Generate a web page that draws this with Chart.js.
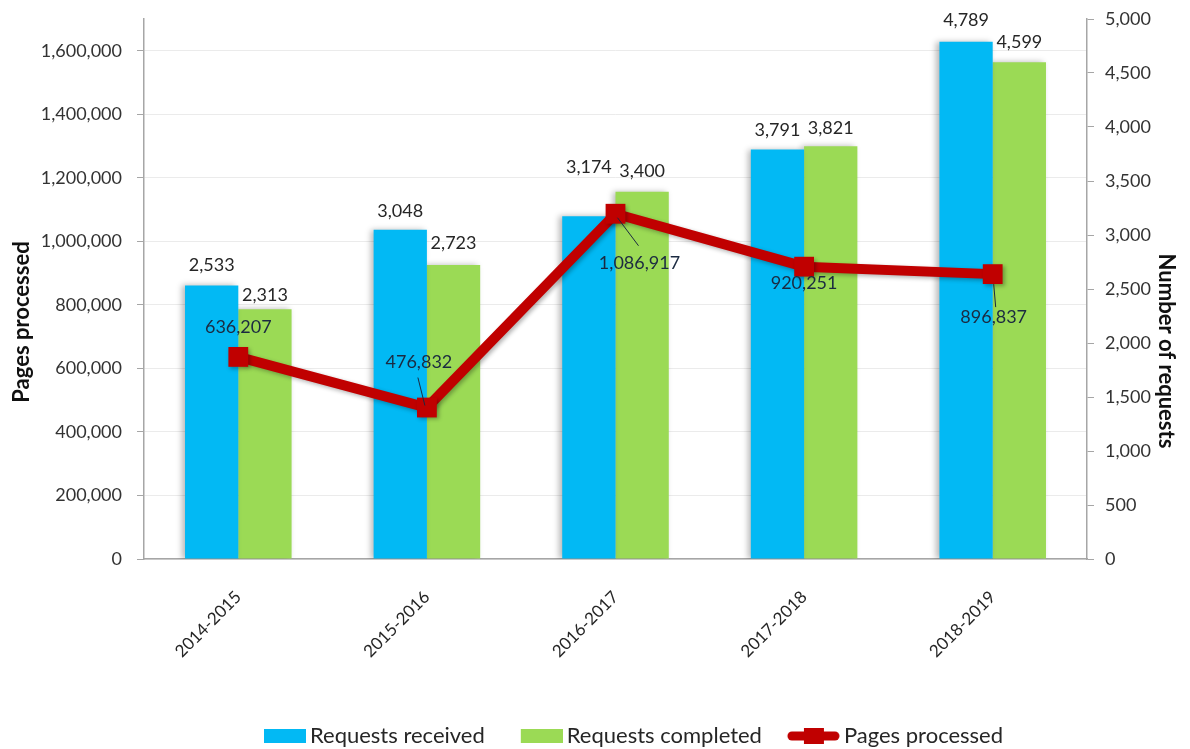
<!DOCTYPE html>
<html>
<head>
<meta charset="utf-8">
<script src="https://cdn.jsdelivr.net/npm/chart.js@4.4.1/dist/chart.umd.min.js"></script>
<style>
  html, body { margin: 0; padding: 0; background: #fff; }
  #wrap { width: 1190px; height: 749px; }
</style>
</head>
<body>
<div id="wrap"><canvas id="requestsChart" width="1190" height="749"></canvas></div>
<script>
// data
const years = ['2014-2015', '2015-2016', '2016-2017', '2017-2018', '2018-2019'];
const requestsReceived = [2533, 3048, 3174, 3791, 4789];
const requestsCompleted = [2313, 2723, 3400, 3821, 4599];
const pagesProcessed = [636207, 476832, 1086917, 920251, 896837];

// axis ticks
const pagesTicks = [0, 200000, 400000, 600000, 800000, 1000000, 1200000, 1400000, 1600000];
const pagesMax = 1700000;
const requestsMax = 5000;
const requestsStep = 500;

const blue = '#02B9F4';
const green = '#9BDA55';
const red = '#C00000';
const fontFamily = 'Lato, "Open Sans", sans-serif';

function fmt(v) { return Number(v).toLocaleString('en-US'); }

// label placement tweaks (pixels relative to the mark)
const barLabelDy = [[-20, -19, -49, -19, -22], [-14, -22, -21, -18, -20]];
const lineLabelOffset = [[0, -30], [-8, -45], [24, 49], [0, 17], [1, 43]];
const leaderLines = [null, [-9, -30, -2, -2], [2, 4, 23, 32], null, [1, 10, 3, 33]];

// legend icons
const legendW = 71;
function boxIcon(color) {
  const c = document.createElement('canvas');
  c.width = legendW + 14; c.height = 14;
  const g = c.getContext('2d');
  g.fillStyle = color;
  g.fillRect(c.width - 42, 0, 42, 14);
  return c;
}
function lineIcon(color) {
  const c = document.createElement('canvas');
  c.width = legendW + 14; c.height = 22;
  const g = c.getContext('2d');
  g.strokeStyle = color;
  g.lineWidth = 9;
  g.lineCap = 'round';
  g.beginPath();
  g.moveTo(c.width - 48, 11);
  g.lineTo(c.width - 5, 11);
  g.stroke();
  g.fillStyle = color;
  g.fillRect(c.width - 36, 3, 20, 16);
  return c;
}
const legendIcons = [boxIcon(blue), boxIcon(green), lineIcon(red)];

const shadowPlugin = {
  id: 'softShadow',
  beforeDatasetDraw(chart, args) {
    const ctx = chart.ctx;
    ctx.save();
    if (args.meta.type === 'bar') {
      ctx.shadowColor = 'rgba(0,0,0,0.28)';
      ctx.shadowBlur = 6;
      ctx.shadowOffsetX = -3;
      ctx.shadowOffsetY = 0;
    } else {
      ctx.shadowColor = 'rgba(0,0,0,0.3)';
      ctx.shadowBlur = 4;
      ctx.shadowOffsetX = 2;
      ctx.shadowOffsetY = 2;
    }
  },
  afterDatasetDraw(chart) {
    chart.ctx.restore();
  }
};

const valueLabels = {
  id: 'valueLabels',
  afterDatasetsDraw(chart) {
    const ctx = chart.ctx;
    ctx.save();
    ctx.font = '18px ' + fontFamily;
    ctx.textAlign = 'center';
    ctx.textBaseline = 'middle';
    [0, 1].forEach(d => {
      const meta = chart.getDatasetMeta(d);
      meta.data.forEach((bar, i) => {
        ctx.fillStyle = '#262626';
        ctx.fillText(fmt(chart.data.datasets[d].data[i]), bar.x, bar.y + barLabelDy[d][i]);
      });
    });
    const lineMeta = chart.getDatasetMeta(2);
    lineMeta.data.forEach((pt, i) => {
      const lead = leaderLines[i];
      if (lead) {
        ctx.strokeStyle = '#1b2a41';
        ctx.lineWidth = 1;
        ctx.beginPath();
        ctx.moveTo(pt.x + lead[0], pt.y + lead[1]);
        ctx.lineTo(pt.x + lead[2], pt.y + lead[3]);
        ctx.stroke();
      }
      ctx.fillStyle = '#1b2a41';
      ctx.fillText(fmt(pagesProcessed[i]), pt.x + lineLabelOffset[i][0], pt.y + lineLabelOffset[i][1]);
    });
    ctx.restore();
  }
};

// axis titles sit a bit below the middle in the original
const axisTitles = {
  id: 'axisTitles',
  afterDraw(chart) {
    const ctx = chart.ctx;
    const top = chart.chartArea.top;
    ctx.save();
    ctx.font = 'bold 22px ' + fontFamily;
    ctx.fillStyle = '#111111';
    ctx.textAlign = 'center';
    ctx.textBaseline = 'middle';
    ctx.save();
    ctx.translate(22, top + 303);
    ctx.rotate(-Math.PI / 2);
    ctx.fillText('Pages processed', 0, 0);
    ctx.restore();
    ctx.translate(chart.width - 24, top + 332);
    ctx.rotate(Math.PI / 2);
    ctx.fillText('Number of requests', 0, 0);
    ctx.restore();
  }
};

Chart.defaults.font.family = fontFamily;
Chart.defaults.color = '#333333';

var ctx = document.getElementById('requestsChart');
new Chart(ctx, {
  type: 'bar',
  data: {
    labels: years,
    datasets: [{
      label: 'Requests received',
      data: requestsReceived,
      backgroundColor: blue,
      yAxisID: 'y1',
      order: 1
    }, {
      label: 'Requests completed',
      data: requestsCompleted,
      backgroundColor: green,
      yAxisID: 'y1',
      order: 2
    }, {
      type: 'line',
      label: 'Pages processed',
      data: pagesProcessed,
      borderColor: red,
      backgroundColor: red,
      borderWidth: 10,
      pointStyle: 'rect',
      pointRadius: 14,
      pointBorderWidth: 0,
      pointBackgroundColor: red,
      tension: 0,
      yAxisID: 'y',
      order: 0
    }]
  },
  options: {
    responsive: false,
    animation: false,
    layout: { padding: { top: 19, left: 0, right: 0, bottom: -8 } },
    datasets: {
      bar: { categoryPercentage: 0.565, barPercentage: 1.0 }
    },
    plugins: {
      tooltip: { enabled: false },
      legend: {
        display: true,
        position: 'bottom',
        fullSize: false,
        labels: {
          usePointStyle: true,
          pointStyleWidth: legendW,
          boxHeight: 14,
          padding: 0,
          color: '#262626',
          font: { size: 22 },
          sort: (a, b) => a.datasetIndex - b.datasetIndex,
          generateLabels(chart) {
            const items = Chart.defaults.plugins.legend.labels.generateLabels(chart);
            items.forEach(it => { it.pointStyle = legendIcons[it.datasetIndex]; });
            return items;
          }
        }
      }
    },
    scales: {
      x: {
        grid: { display: false },
        border: { display: true, color: '#a6a6a6', width: 1.5 },
        ticks: {
          maxRotation: 45,
          minRotation: 45,
          padding: 20,
          color: '#262626',
          font: { size: 17 }
        },
        afterFit(scale) { scale.height = 166; }
      },
      y: {
        position: 'left',
        min: 0,
        max: pagesMax,
        ticks: {
          padding: 15,
          color: '#333333',
          font: { size: 18 },
          callback: v => fmt(v)
        },
        afterBuildTicks(scale) {
          scale.ticks = pagesTicks.map(v => ({ value: v }));
        },
        grid: {
          color: '#ebebeb',
          tickColor: '#a6a6a6',
          tickLength: 7,
          drawOnChartArea: true
        },
        border: { display: true, color: '#a6a6a6', width: 1.5 },
        afterFit(scale) {
          scale.width = 144;
          scale.paddingTop = 8;
          scale.paddingBottom = 8;
        }
      },
      y1: {
        position: 'right',
        min: 0,
        max: requestsMax,
        ticks: {
          stepSize: requestsStep,
          padding: 11,
          color: '#333333',
          font: { size: 18 },
          callback: v => fmt(v)
        },
        grid: {
          drawOnChartArea: false,
          tickColor: '#a6a6a6',
          tickLength: 7
        },
        border: { display: true, color: '#a6a6a6', width: 1.5 },
        afterFit(scale) {
          scale.width = 103;
          scale.paddingTop = 8;
          scale.paddingBottom = 8;
        }
      }
    }
  },
  plugins: [shadowPlugin, valueLabels, axisTitles]
});
</script>
</body>
</html>
